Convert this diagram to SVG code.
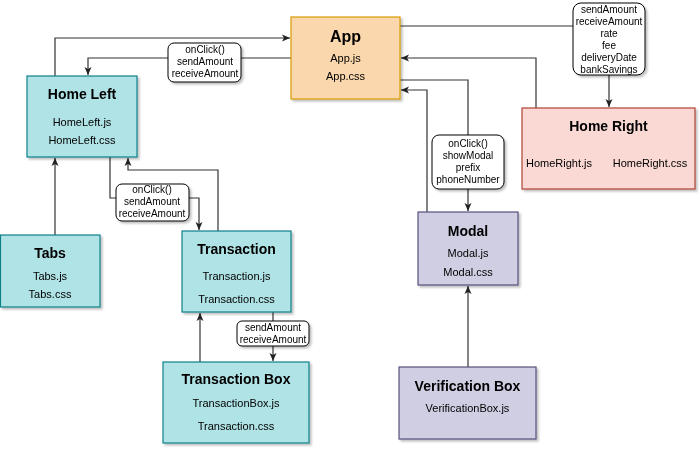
<svg xmlns="http://www.w3.org/2000/svg" width="700" height="450" viewBox="0 0 700 450">
<defs>
<filter id="sh" x="-10%" y="-10%" width="130%" height="130%">
<feDropShadow dx="2" dy="2" stdDeviation="1.2" flood-color="#000" flood-opacity="0.25"/>
</filter>
<marker id="arr" markerWidth="10" markerHeight="8" refX="8" refY="4" orient="auto" markerUnits="userSpaceOnUse">
<path d="M0,0.5 L8,4 L0,7.5 L2,4 Z" fill="#222"/>
</marker>
<style>
.teal{fill:#b0e3e6;stroke:#0e8088;stroke-width:1.2}
.orange{fill:#fad7ac;stroke:#d79b00;stroke-width:1.2}
.red{fill:#fad9d5;stroke:#ae4132;stroke-width:1.2}
.purple{fill:#d0cee2;stroke:#56517e;stroke-width:1.2}
.title{font-family:"Liberation Sans",Arial,sans-serif;font-weight:bold;font-size:14px;fill:#000;text-anchor:middle}
.file{font-family:"Liberation Sans",Arial,sans-serif;font-size:11px;fill:#000;text-anchor:middle}
.lbl{font-family:"Liberation Sans",Arial,sans-serif;font-size:10px;fill:#000;text-anchor:middle}
.lblbox{fill:#fff;stroke:#000;stroke-width:1}
.edge{fill:none;stroke:#333;stroke-width:1.2}
</style>
</defs>
<g id="connectors">
<path class="edge" d="M55,76 V38 H290" marker-end="url(#arr)"/>
<path class="edge" d="M291,58 H88 V75" marker-end="url(#arr)"/>
<path class="edge" d="M55,235 V158" marker-end="url(#arr)"/>
<path class="edge" d="M110,157 V198 H199 V230" marker-end="url(#arr)"/>
<path class="edge" d="M218,231 V170 H128 V158" marker-end="url(#arr)"/>
<path class="edge" d="M200,362 V313" marker-end="url(#arr)"/>
<path class="edge" d="M273,312 V361" marker-end="url(#arr)"/>
<path class="edge" d="M400,26 H609 V107" marker-end="url(#arr)"/>
<path class="edge" d="M536,108 V58 H401" marker-end="url(#arr)"/>
<path class="edge" d="M400,80 H468 V211" marker-end="url(#arr)"/>
<path class="edge" d="M427,212 V90 H401" marker-end="url(#arr)"/>
<path class="edge" d="M468,367 V286" marker-end="url(#arr)"/>
<g id="label-app-homeleft" filter="url(#sh)">
<rect class="lblbox" x="168" y="43" width="73" height="39" rx="6"/>
<text class="lbl" x="205" y="53">onClick()</text>
<text class="lbl" x="205" y="65">sendAmount</text>
<text class="lbl" x="205" y="77">receiveAmount</text>
</g>
<g id="label-homeleft-transaction" filter="url(#sh)">
<rect class="lblbox" x="116" y="184" width="73" height="37" rx="6"/>
<text class="lbl" x="152" y="193">onClick()</text>
<text class="lbl" x="152" y="205">sendAmount</text>
<text class="lbl" x="152" y="217">receiveAmount</text>
</g>
<g id="label-transaction-box" filter="url(#sh)">
<rect class="lblbox" x="237" y="321" width="72" height="25" rx="5"/>
<text class="lbl" x="273" y="331">sendAmount</text>
<text class="lbl" x="273" y="343">receiveAmount</text>
</g>
<g id="label-app-homeright" filter="url(#sh)">
<rect class="lblbox" x="573" y="3" width="72" height="72" rx="8"/>
<text class="lbl" x="609" y="13">sendAmount</text>
<text class="lbl" x="609" y="25">receiveAmount</text>
<text class="lbl" x="609" y="37">rate</text>
<text class="lbl" x="609" y="49">fee</text>
<text class="lbl" x="609" y="61">deliveryDate</text>
<text class="lbl" x="609" y="73">bankSavings</text>
</g>
<g id="label-app-modal" filter="url(#sh)">
<rect class="lblbox" x="432" y="135" width="72" height="54" rx="7"/>
<text class="lbl" x="468" y="147">onClick()</text>
<text class="lbl" x="468" y="159">showModal</text>
<text class="lbl" x="468" y="171">prefix</text>
<text class="lbl" x="468" y="183">phoneNumber</text>
</g>
</g>
<g id="app" filter="url(#sh)">
<rect class="orange" x="291" y="17" width="109" height="82"/>
<text class="title" x="345.5" y="42" style="font-size:16px">App</text>
<text class="file" x="345.5" y="62">App.js</text>
<text class="file" x="345.5" y="80">App.css</text>
</g>
<g id="home-left" filter="url(#sh)">
<rect class="teal" x="27" y="76" width="110" height="81"/>
<text class="title" x="82" y="99">Home Left</text>
<text class="file" x="82" y="126">HomeLeft.js</text>
<text class="file" x="82" y="144">HomeLeft.css</text>
</g>
<g id="home-right" filter="url(#sh)">
<rect class="red" x="522" y="108" width="173" height="81"/>
<text class="title" x="608.5" y="131">Home Right</text>
<text class="file" x="559" y="167">HomeRight.js</text>
<text class="file" x="650" y="167">HomeRight.css</text>
</g>
<g id="tabs" filter="url(#sh)">
<rect class="teal" x="0.5" y="235" width="99.5" height="72"/>
<text class="title" x="50" y="258">Tabs</text>
<text class="file" x="50" y="280">Tabs.js</text>
<text class="file" x="50" y="298">Tabs.css</text>
</g>
<g id="transaction" filter="url(#sh)">
<rect class="teal" x="182" y="231" width="109" height="81"/>
<text class="title" x="236.5" y="254">Transaction</text>
<text class="file" x="236.5" y="280">Transaction.js</text>
<text class="file" x="236.5" y="303">Transaction.css</text>
</g>
<g id="transaction-box" filter="url(#sh)">
<rect class="teal" x="163" y="362" width="146" height="81"/>
<text class="title" x="236" y="384">Transaction Box</text>
<text class="file" x="236" y="407">TransactionBox.js</text>
<text class="file" x="236" y="430">Transaction.css</text>
</g>
<g id="modal" filter="url(#sh)">
<rect class="purple" x="418" y="212" width="100" height="73"/>
<text class="title" x="468" y="236">Modal</text>
<text class="file" x="468" y="257">Modal.js</text>
<text class="file" x="468" y="276">Modal.css</text>
</g>
<g id="verification-box" filter="url(#sh)">
<rect class="purple" x="399" y="367" width="137" height="72"/>
<text class="title" x="467.5" y="391">Verification Box</text>
<text class="file" x="467.5" y="412">VerificationBox.js</text>
</g>
</svg>
